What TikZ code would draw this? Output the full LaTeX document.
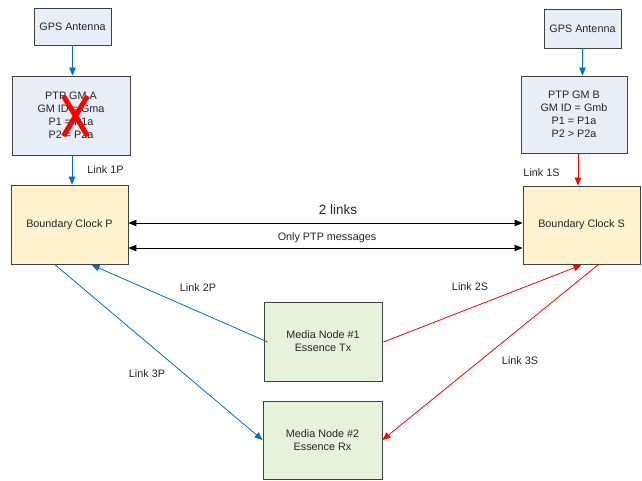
\documentclass[tikz,border=0pt]{standalone}
\usepackage{fontspec}
\setmainfont{Liberation Sans}
\usetikzlibrary{arrows.meta,calc}
\definecolor{linkblue}{RGB}{0,112,192}
\definecolor{linkred}{RGB}{255,0,0}
\definecolor{gmfill}{RGB}{232,238,248}
\definecolor{bcfill}{RGB}{255,242,204}
\definecolor{mnfill}{RGB}{230,242,218}
\definecolor{boxline}{RGB}{64,64,64}
\tikzset{
  box/.style={draw=boxline, line width=0.8pt, inner sep=0pt, align=center,
    font=\fontsize{10.8}{13}\selectfont, text=black!85},
  gmbox/.style={box, fill=gmfill},
  bcbox/.style={box, fill=bcfill},
  mnbox/.style={box, fill=mnfill},
  arrowtip/.tip={Triangle[length=8pt,width=6.5pt]},
  bluelink/.style={draw=linkblue, line width=0.8pt, -{arrowtip}},
  redlink/.style={draw=linkred, line width=0.8pt, -{arrowtip}},
  twoway/.style={draw=black, line width=0.9pt, {arrowtip}-{arrowtip}},
  lbl/.style={font=\fontsize{10.8}{13}\selectfont, text=black!85, inner sep=0pt}
}
\begin{document}
\begin{tikzpicture}[x=1pt,y=-1pt]
\useasboundingbox (0,0) rectangle (642,481);
\fill[white] (0,0) rectangle (642,481);

% left side: grandmaster A and boundary clock P
\node[gmbox, minimum width=77pt, minimum height=37pt] (gpsa) at (72.5,26.5) {GPS Antenna};
\node[gmbox, minimum width=118pt, minimum height=79pt] (gma) at (71,115.5)
  {PTP GM A\\GM ID = Gma\\P1 = P1a\\P2 = P2a};
\node[bcbox, minimum width=117pt, minimum height=79pt] (bcp) at (69.5,224.5) {Boundary Clock P};

% right side: grandmaster B and boundary clock S
\node[gmbox, minimum width=77pt, minimum height=39pt] (gpsb) at (582.5,28.5) {GPS Antenna};
\node[gmbox, minimum width=106pt, minimum height=77pt] (gmb) at (574,114.5)
  {PTP GM B\\GM ID = Gmb\\P1 = P1a\\P2 > P2a};
\node[bcbox, minimum width=117pt, minimum height=78pt] (bcs) at (581.5,225) {Boundary Clock S};

% media nodes
\node[mnbox, minimum width=118pt, minimum height=79pt] (mn1) at (323,341.5) {Media Node \#1\\Essence Tx};
\node[mnbox, minimum width=119pt, minimum height=78pt] (mn2) at (322.5,440) {Media Node \#2\\Essence Rx};

% failed grandmaster mark
\draw[linkred, line width=5pt] (63.5,96) -- (87.5,136) (87.5,96) -- (63.5,136);

% antenna feeds and grandmaster links
\draw[bluelink] (gpsa.south) -- (gpsa.south |- gma.north);
\draw[bluelink] (gpsb.south) -- (gpsb.south |- gmb.north);
\draw[bluelink] (gma.south -| 72,0) -- (bcp.north -| 72,0);
\draw[redlink] (gmb.south -| 578,0) -- (bcs.north -| 578,0);
\node[lbl] (l1p) at (105.5,170) {Link 1P};
\node[lbl] (l1s) at (541.5,173) {Link 1S};

% links between the boundary clocks
\coordinate (pa) at ($(bcp.east)+(0,-1.5)$);
\coordinate (pb) at ($(bcp.east)+(0,23.5)$);
\draw[twoway] (pa) -- (pa -| bcs.west);
\draw[twoway] (pb) -- (pb -| bcs.west);
\node[font=\fontsize{13.5}{15}\selectfont, text=black!85, inner sep=0pt] (twol) at (338,209.5) {2 links};
\node[lbl] (ptpl) at (327,237.5) {Only PTP messages};

% links to the media nodes
\draw[bluelink] ($(mn1.west)+(4,0.5)$) -- ($(bcp.south west)+(81,0.5)$);
\draw[bluelink] ($(bcp.south west)+(44,0)$) -- ($(mn2.west)+(0,0)$);
\draw[redlink] ($(mn1.east)+(1,0.5)$) -- ($(bcs.south west)+(59,0.5)$);
\draw[redlink] ($(bcs.south west)+(76,0)$) -- ($(mn2.east)+(0,0)$);
\node[lbl] (l2p) at (198,288) {Link 2P};
\node[lbl] (l2s) at (470,287) {Link 2S};
\node[lbl] (l3p) at (147,374) {Link 3P};
\node[lbl] (l3s) at (520,361) {Link 3S};
\end{tikzpicture}
\end{document}
